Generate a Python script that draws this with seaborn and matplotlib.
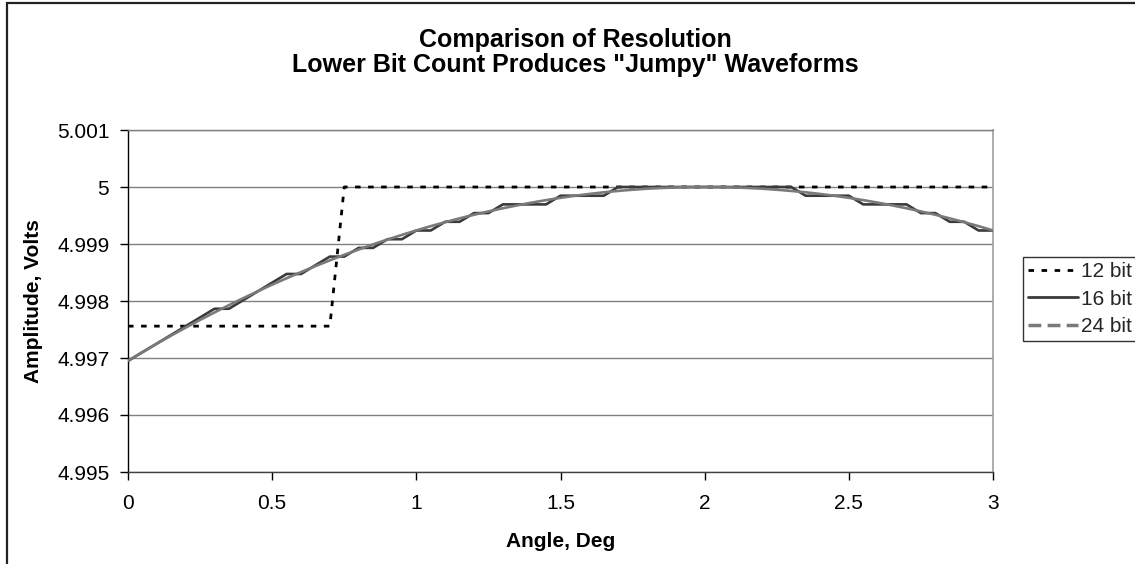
import matplotlib
matplotlib.use("Agg")
import matplotlib.pyplot as plt
from matplotlib.lines import Line2D
from matplotlib.patches import Rectangle
import seaborn as sns
import pandas as pd

# ---------------- data ----------------
angles = [0.00, 0.05, 0.10, 0.15, 0.20, 0.25, 0.30, 0.35, 0.40, 0.45,
          0.50, 0.55, 0.60, 0.65, 0.70, 0.75, 0.80, 0.85, 0.90, 0.95,
          1.00, 1.05, 1.10, 1.15, 1.20, 1.25, 1.30, 1.35, 1.40, 1.45,
          1.50, 1.55, 1.60, 1.65, 1.70, 1.75, 1.80, 1.85, 1.90, 1.95,
          2.00, 2.05, 2.10, 2.15, 2.20, 2.25, 2.30, 2.35, 2.40, 2.45,
          2.50, 2.55, 2.60, 2.65, 2.70, 2.75, 2.80, 2.85, 2.90, 2.95,
          3.00]

bit12 = [4.997559] * 15 + [5.000000] * 46

bit16 = [4.996948, 4.997101, 4.997253, 4.997406, 4.997559, 4.997711, 4.997864, 4.997864, 4.998016, 4.998169,
         4.998322, 4.998474, 4.998474, 4.998627, 4.998779, 4.998779, 4.998932, 4.998932, 4.999084, 4.999084,
         4.999237, 4.999237, 4.999390, 4.999390, 4.999542, 4.999542, 4.999695, 4.999695, 4.999695, 4.999695,
         4.999847, 4.999847, 4.999847, 4.999847, 5.000000, 5.000000, 5.000000, 5.000000, 5.000000, 5.000000,
         5.000000, 5.000000, 5.000000, 5.000000, 5.000000, 5.000000, 5.000000, 4.999847, 4.999847, 4.999847,
         4.999847, 4.999695, 4.999695, 4.999695, 4.999695, 4.999542, 4.999542, 4.999390, 4.999390, 4.999237,
         4.999237]

bit24 = [4.996954, 4.997104, 4.997251, 4.997394, 4.997533, 4.997668, 4.997799, 4.997927, 4.998050, 4.998170,
         4.998287, 4.998399, 4.998507, 4.998612, 4.998713, 4.998810, 4.998903, 4.998993, 4.999079, 4.999160,
         4.999238, 4.999313, 4.999383, 4.999450, 4.999513, 4.999572, 4.999627, 4.999678, 4.999726, 4.999770,
         4.999810, 4.999846, 4.999878, 4.999907, 4.999931, 4.999952, 4.999970, 4.999983, 4.999992, 4.999998,
         5.000000, 4.999998, 4.999992, 4.999983, 4.999970, 4.999952, 4.999931, 4.999907, 4.999878, 4.999846,
         4.999810, 4.999770, 4.999726, 4.999678, 4.999627, 4.999572, 4.999513, 4.999450, 4.999383, 4.999313,
         4.999238]

series_names = ["12 bit", "16 bit", "24 bit"]
x_ticks = [0, 0.5, 1, 1.5, 2, 2.5, 3]
x_tick_labels = ["0", "0.5", "1", "1.5", "2", "2.5", "3"]
y_ticks = [4.995, 4.996, 4.997, 4.998, 4.999, 5.000, 5.001]
y_tick_labels = ["4.995", "4.996", "4.997", "4.998", "4.999", "5", "5.001"]
title_lines = ["Comparison of Resolution", 'Lower Bit Count Produces "Jumpy" Waveforms']

df = pd.DataFrame({
    "Angle": angles * 3,
    "Amplitude": bit12 + bit16 + bit24,
    "Resolution": [series_names[0]] * len(angles) + [series_names[1]] * len(angles) + [series_names[2]] * len(angles),
})

# ---------------- style ----------------
sns.set_theme(style="white")
plt.rcParams["font.family"] = ["Liberation Sans", "DejaVu Sans"]

W, H = 1135, 564
fig = plt.figure(figsize=(W / 100, H / 100), dpi=100)
fig.patch.set_facecolor("white")
ax = fig.add_axes([128 / W, 1 - 472 / H, (993 - 128) / W, (472 - 130) / H])

styles = {
    "12 bit": dict(color="black", lw=2.0, ls=(0, (2.0, 2.7))),
    "16 bit": dict(color="#3a3a3a", lw=1.9, ls="-"),
    "24 bit": dict(color="#7a7a7a", lw=1.9, ls="-"),
}

for name in series_names:
    sub = df[df["Resolution"] == name]
    st = styles[name]
    sns.lineplot(data=sub, x="Angle", y="Amplitude", ax=ax, color=st["color"],
                 linewidth=st["lw"], linestyle=st["ls"], estimator=None, sort=False,
                 legend=False, zorder=3)

ax.set_xlim(0, 3)
ax.set_ylim(4.995, 5.001)
ax.set_xticks(x_ticks)
ax.set_xticklabels(x_tick_labels)
ax.set_yticks(y_ticks)
ax.set_yticklabels(y_tick_labels)

ax.yaxis.grid(True, color="#808080", lw=1.0)
ax.xaxis.grid(False)
ax.set_axisbelow(True)

ax.spines["left"].set_color("black")
ax.spines["left"].set_linewidth(1.0)
ax.spines["bottom"].set_color("#404040")
ax.spines["bottom"].set_linewidth(1.0)
ax.spines["right"].set_color("#a0a0a0")
ax.spines["right"].set_linewidth(1.2)
ax.spines["top"].set_color("#808080")
ax.spines["top"].set_linewidth(1.0)

ax.tick_params(axis="y", direction="out", length=6, width=1, color="black",
               labelsize=15, pad=7.5, left=True)
ax.tick_params(axis="x", direction="out", length=6, width=1, color="black",
               labelsize=15, pad=10, bottom=True)
for lab in ax.get_xticklabels() + ax.get_yticklabels():
    lab.set_color("black")

ax.set_xlabel("Angle, Deg", fontsize=15, fontweight="bold", color="black")
ax.xaxis.label.set_va("baseline")
ax.xaxis.set_label_coords(0.5, (472 - 547) / 342)
ax.set_ylabel("Amplitude, Volts", fontsize=15, fontweight="bold", color="black")
ax.yaxis.label.set_va("center")
ax.yaxis.set_label_coords((34 - 128) / 865, 0.5)

# title (two lines, centred in chart area)
fig.text(575 / W, 1 - 47 / H, title_lines[0], ha="center", va="baseline",
         fontsize=18, fontweight="bold", color="black")
fig.text(575 / W, 1 - 72 / H, title_lines[1], ha="center", va="baseline",
         fontsize=18, fontweight="bold", color="black")

# legend
handles = [
    Line2D([], [], color="black", lw=2.0, ls=(0, (2.0, 2.7))),
    Line2D([], [], color="#3a3a3a", lw=2.0, ls="-"),
    Line2D([], [], color="#7a7a7a", lw=2.5, ls=(0, (3.7, 1.8))),
]
leg = fig.legend(handles, series_names, loc="upper left",
                 bbox_to_anchor=(1023 / W, 1 - 257 / H), bbox_transform=fig.transFigure,
                 frameon=True, fancybox=False, shadow=False, edgecolor="black",
                 borderaxespad=0, borderpad=0.25, labelspacing=0.4,
                 handlelength=2.4, handletextpad=0.15, fontsize=15)
leg.get_frame().set_linewidth(1.0)
leg.get_frame().set_facecolor("white")

# outer chart-area border (cropped on the right and bottom)
fig.patches.append(Rectangle((7 / W, -0.2), 1.5, 1.2 - 3 / H, transform=fig.transFigure,
                             fill=False, edgecolor="#222222", lw=1.6, zorder=0))

fig.savefig("out.png", dpi=100, facecolor="white")
